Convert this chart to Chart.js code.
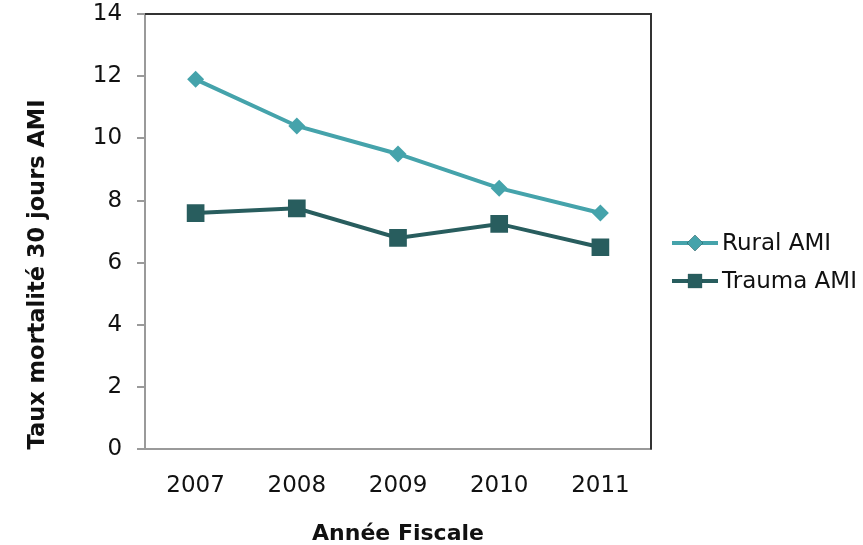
<!DOCTYPE html>
<html>
<head>
<meta charset="utf-8">
<style>
  body { margin: 0; background: #ffffff; }
  #wrap { width: 863px; height: 545px; position: relative; }
</style>
</head>
<body>
<div id="wrap"><canvas id="chart"></canvas></div>
<script src="https://cdn.jsdelivr.net/npm/chart.js"></script>
<script>
  // Données
  const years = ['2007', '2008', '2009', '2010', '2011'];
  const ruralAMI = [11.9, 10.4, 9.5, 8.4, 7.6];
  const traumaAMI = [7.6, 7.75, 6.8, 7.25, 6.5];
  const seriesNames = ['Rural AMI', 'Trauma AMI'];
  const yTicks = [0, 2, 4, 6, 8, 10, 12, 14];

  const ruralColor = '#45a3ab';
  const traumaColor = '#285d5e';
  const fontFamily = '"DejaVu Sans", Verdana, sans-serif';

  // cadre haut/droite + légende
  const framePlugin = {
    id: 'frame',
    afterDraw(chart) {
      const { ctx, chartArea } = chart;
      ctx.save();
      ctx.strokeStyle = '#333333';
      ctx.lineWidth = 2;
      ctx.beginPath();
      ctx.moveTo(chartArea.left, chartArea.top);
      ctx.lineTo(chartArea.right, chartArea.top);
      ctx.lineTo(chartArea.right, chartArea.bottom);
      ctx.stroke();

      // légende
      const x0 = chartArea.right + 21;
      const rows = [243, 281];
      chart.data.datasets.forEach((ds, i) => {
        const y = rows[i];
        ctx.strokeStyle = ds.borderColor;
        ctx.lineWidth = 4;
        ctx.beginPath();
        ctx.moveTo(x0, y);
        ctx.lineTo(x0 + 46, y);
        ctx.stroke();
        Chart.helpers.drawPoint(ctx, {
          pointStyle: ds.pointStyle,
          radius: ds.legendRadius,
          borderWidth: 0
        }, x0 + 23, y);
        ctx.fillStyle = ds.borderColor;
        ctx.fill();
        ctx.fillStyle = '#111111';
        ctx.font = '23px ' + fontFamily;
        ctx.textBaseline = 'middle';
        ctx.textAlign = 'left';
        ctx.fillText(ds.label, x0 + 50, y + 1);
      });
      ctx.restore();
    }
  };

  const ctx = document.getElementById('chart').getContext('2d');
  new Chart(ctx, {
    type: 'line',
    data: {
      labels: years,
      datasets: [
        {
          label: seriesNames[0],
          data: ruralAMI,
          borderColor: ruralColor,
          backgroundColor: ruralColor,
          borderWidth: 4,
          pointStyle: 'rectRot',
          pointRadius: 8.5,
          legendRadius: 8,
          pointBorderWidth: 0,
          tension: 0
        },
        {
          label: seriesNames[1],
          data: traumaAMI,
          borderColor: traumaColor,
          backgroundColor: traumaColor,
          borderWidth: 4,
          pointStyle: 'rect',
          pointRadius: 12.5,
          legendRadius: 10,
          pointBorderWidth: 0,
          tension: 0
        }
      ]
    },
    options: {
      responsive: true,
      maintainAspectRatio: false,
      animation: false,
      layout: { padding: { top: 14, right: 212, bottom: 0, left: 26 } },
      plugins: {
        legend: { display: false },
        tooltip: { enabled: false }
      },
      scales: {
        x: {
          offset: true,
          grid: { display: false, drawTicks: false },
          border: { color: '#9a9a9a', width: 2 },
          ticks: {
            color: '#111111',
            padding: 23,
            font: { family: fontFamily, size: 23 }
          },
          title: {
            display: true,
            text: 'Année Fiscale',
            color: '#111111',
            padding: { top: 0, bottom: 0 },
            font: { family: fontFamily, size: 22, weight: 'bold', lineHeight: 1.0 }
          }
        },
        y: {
          min: 0,
          max: 14,
          afterBuildTicks(axis) {
            axis.ticks = yTicks.map(v => ({ value: v }));
          },
          afterFit(axis) {
            axis.paddingTop = 0;
          },
          grid: {
            drawOnChartArea: false,
            tickLength: 8,
            color: '#9a9a9a',
            lineWidth: 2
          },
          border: { color: '#9a9a9a', width: 2 },
          ticks: {
            color: '#111111',
            padding: 15,
            font: { family: fontFamily, size: 23 }
          },
          title: {
            display: true,
            align: 'start',
            text: 'Taux mortalité 30 jours AMI',
            color: '#111111',
            padding: { top: 0, bottom: 27 },
            font: { family: fontFamily, size: 22.5, weight: 'bold', lineHeight: 1.1 }
          }
        }
      }
    },
    plugins: [framePlugin]
  });
</script>
</body>
</html>
